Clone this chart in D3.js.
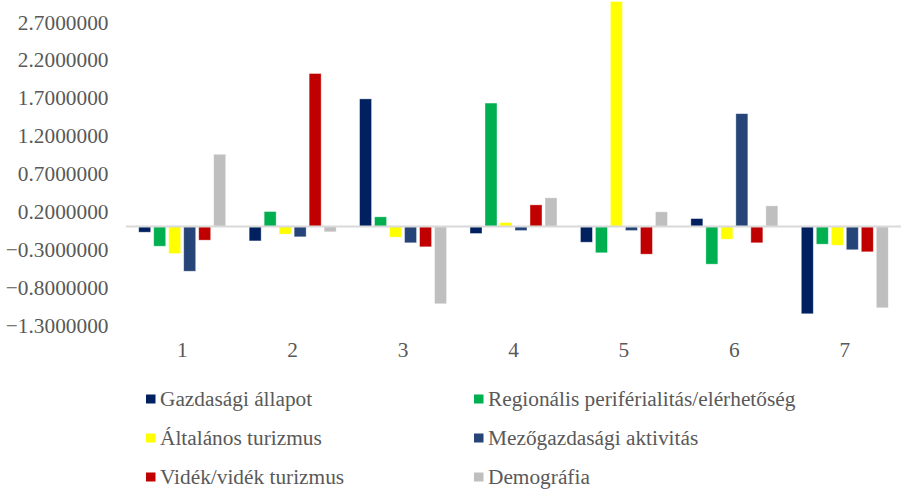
<!DOCTYPE html>
<html>
<head>
<meta charset="utf-8">
<script src="https://cdn.jsdelivr.net/npm/d3@7"></script>
<style>
  body { margin: 0; background: #fff; }
  text { font-family: "Liberation Serif", "Times New Roman", serif; fill: #595959; }
</style>
</head>
<body>
<svg id="chart" width="902" height="490"></svg>
<script>
'use strict';

// categories on the x axis
var categories = ['1', '2', '3', '4', '5', '6', '7'];

// series names (legend order)
var seriesNames = [
	'Gazdasági állapot',
	'Regionális periférialitás/elérhetőség',
	'Általános turizmus',
	'Mezőgazdasági aktivitás',
	'Vidék/vidék turizmus',
	'Demográfia'
];
var seriesColors = ['#002060', '#00B050', '#FFFF00', '#264478', '#C00000', '#BFBFBF'];

// values per series, one per category
var gazdasagi = [-0.075, -0.19, 1.685, -0.092, -0.207, 0.105, -1.152];
var regionalis = [-0.26, 0.198, 0.128, 1.63, -0.347, -0.497, -0.233];
var altalanos = [-0.356, -0.10, -0.14, 0.053, 2.97, -0.167, -0.247];
var mezogazdasagi = [-0.59, -0.136, -0.215, -0.053, -0.053, 1.49, -0.307];
var videk = [-0.18, 2.02, -0.268, 0.286, -0.365, -0.215, -0.334];
var demografia = [0.954, -0.07, -1.02, 0.379, 0.194, 0.273, -1.073];

var seriesValues = [gazdasagi, regionalis, altalanos, mezogazdasagi, videk, demografia];

// y tick values
var yTicks = [-1.3, -0.8, -0.3, 0.2, 0.7, 1.2, 1.7, 2.2, 2.7];

var fontSize = '21.33px';
var svg = d3.select('#chart');

// scales
var yScale = d3.scaleLinear()
	.domain([-1.3, 2.7])
	.range([325, 22]);
var xScale = d3.scaleBand()
	.domain(categories)
	.range([127, 900]);
var groupWidth = 90;
var xInner = d3.scaleBand()
	.domain(d3.range(seriesNames.length))
	.range([0, groupWidth])
	.paddingInner(0.2)
	.paddingOuter(0.1);

// y axis labels (no line, no ticks)
var yAxis = d3.axisLeft(yScale)
	.tickValues(yTicks)
	.tickFormat(d3.format('.7f'))
	.tickSize(0)
	.tickPadding(0);
var yG = svg.append('g')
	.attr('transform', 'translate(108.5,0)')
	.call(yAxis);
yG.attr('font-family', null).attr('font-size', null);
yG.select('.domain').remove();
yG.selectAll('text')
	.attr('dy', '0.33em')
	.style('font-size', fontSize)
	.attr('fill', '#595959');

// bars
var groups = svg.append('g').attr('class', 'data')
	.selectAll('g').data(categories)
	.enter()
	.append('g')
	.attr('transform', function(c) {
		return 'translate(' + (xScale(c) + (xScale.bandwidth() - groupWidth) / 2) + ',0)';
	});

groups.selectAll('rect')
	.data(function(c, ci) {
		return seriesValues.map(function(vals, si) { return { s: si, v: vals[ci] }; });
	})
	.enter()
	.append('rect')
	.attr('x', function(d) { return xInner(d.s); })
	.attr('width', xInner.bandwidth())
	.attr('y', function(d) { return Math.min(yScale(d.v), yScale(0)); })
	.attr('height', function(d) { return Math.abs(yScale(d.v) - yScale(0)); })
	.attr('fill', function(d) { return seriesColors[d.s]; })
	.attr('stroke', '#fff')
	.attr('stroke-opacity', 0.5)
	.attr('stroke-width', 0.75);

// zero line (category axis)
svg.append('line')
	.attr('x1', 126).attr('x2', 901)
	.attr('y1', yScale(0)).attr('y2', yScale(0))
	.attr('stroke', '#D9D9D9')
	.attr('stroke-width', 2);

// category labels
svg.append('g').selectAll('text').data(categories)
	.enter()
	.append('text')
	.attr('x', function(c) { return xScale(c) + xScale.bandwidth() / 2; })
	.attr('y', 357)
	.attr('text-anchor', 'middle')
	.style('font-size', fontSize)
	.text(function(c) { return c; });

// legend: two columns, three rows (baselines)
var legendCols = [146, 474];
var legendRows = [406, 445, 484];
var legend = svg.append('g').selectAll('g').data(seriesNames)
	.enter()
	.append('g')
	.attr('transform', function(d, i) {
		return 'translate(' + legendCols[i % 2] + ',' + legendRows[Math.floor(i / 2)] + ')';
	});
legend.append('rect')
	.attr('x', 0).attr('y', -11.5)
	.attr('width', 9.5).attr('height', 9)
	.attr('fill', function(d, i) { return seriesColors[i]; });
legend.append('text')
	.attr('x', 14)
	.attr('y', 0)
	.style('font-size', fontSize)
	.text(function(d) { return d; });
</script>
</body>
</html>
